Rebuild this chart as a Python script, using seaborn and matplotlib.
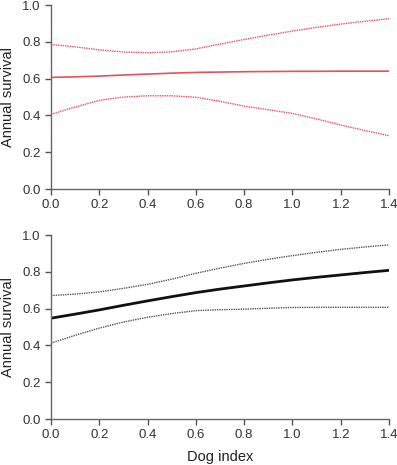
import numpy as np
import pandas as pd
import matplotlib
matplotlib.use('Agg')
import matplotlib.pyplot as plt
import seaborn as sns

# Values
x = [0.0, 0.1, 0.2, 0.3, 0.4, 0.5, 0.6, 0.7, 0.8, 0.9, 1.0, 1.1, 1.2, 1.3, 1.4]

top_mean = [0.607, 0.610, 0.614, 0.620, 0.625, 0.630, 0.634, 0.636, 0.638, 0.639,
            0.640, 0.640, 0.641, 0.641, 0.641]
top_upper = [0.786, 0.773, 0.757, 0.745, 0.741, 0.746, 0.762, 0.788, 0.813, 0.837,
             0.859, 0.879, 0.897, 0.912, 0.926]
top_lower = [0.406, 0.446, 0.482, 0.500, 0.507, 0.507, 0.499, 0.477, 0.451, 0.431,
             0.411, 0.381, 0.348, 0.318, 0.290]

bot_mean = [0.548, 0.570, 0.593, 0.618, 0.642, 0.665, 0.687, 0.706, 0.723, 0.740,
            0.756, 0.770, 0.783, 0.796, 0.808]
bot_upper = [0.671, 0.679, 0.691, 0.710, 0.732, 0.760, 0.792, 0.820, 0.846, 0.868,
             0.888, 0.906, 0.922, 0.935, 0.946]
bot_lower = [0.412, 0.455, 0.494, 0.527, 0.553, 0.573, 0.589, 0.594, 0.597, 0.602,
             0.606, 0.607, 0.607, 0.607, 0.607]

sns.set_style('ticks')
plt.rcParams['font.family'] = ['Liberation Sans', 'DejaVu Sans']

fig = plt.figure(figsize=(3.97, 4.65), dpi=100)
ax1 = fig.add_axes([0.1285, 0.5935, 0.8515, 0.3955])
ax2 = fig.add_axes([0.1285, 0.0989, 0.8515, 0.3957])

red = '#e8505a'
grey = '#555555'
dots = (0, (1, 0.7))

df1 = pd.DataFrame({'x': x, 'mean': top_mean, 'upper': top_upper, 'lower': top_lower})
df2 = pd.DataFrame({'x': x, 'mean': bot_mean, 'upper': bot_upper, 'lower': bot_lower})

sns.lineplot(data=df1, x='x', y='mean', ax=ax1, color=red, linewidth=1.2)
sns.lineplot(data=df1, x='x', y='upper', ax=ax1, color=red, linewidth=1.0, linestyle=dots)
sns.lineplot(data=df1, x='x', y='lower', ax=ax1, color=red, linewidth=1.0, linestyle=dots)

sns.lineplot(data=df2, x='x', y='mean', ax=ax2, color='#111111', linewidth=2.0)
sns.lineplot(data=df2, x='x', y='upper', ax=ax2, color=grey, linewidth=1.0, linestyle=dots)
sns.lineplot(data=df2, x='x', y='lower', ax=ax2, color=grey, linewidth=1.0, linestyle=dots)

xt = np.arange(0, 1.41, 0.2)
yt = np.arange(0, 1.01, 0.2)
for ax in (ax1, ax2):
    ax.set_xlim(0, 1.4)
    ax.set_ylim(0, 1.0)
    ax.set_xticks(xt)
    ax.set_yticks(yt)
    ax.set_xticklabels([f'{v:.1f}' for v in xt])
    ax.set_yticklabels([f'{v:.1f}' for v in yt])
    ax.tick_params(labelsize=9.5, colors='#555555', labelcolor='#333333', length=4, width=1)
    for s in ('top', 'right'):
        ax.spines[s].set_visible(False)
    for s in ('left', 'bottom'):
        ax.spines[s].set_color('#666666')
        ax.spines[s].set_linewidth(1)
    ax.set_ylabel('Annual survival', fontsize=10.5, color='#222222', labelpad=5)
    ax.set_xlabel('')
    ax.patch.set_alpha(0)

ax2.set_xlabel('Dog index', fontsize=10.5, color='#222222', labelpad=6)

fig.savefig('out.png', dpi=100)
